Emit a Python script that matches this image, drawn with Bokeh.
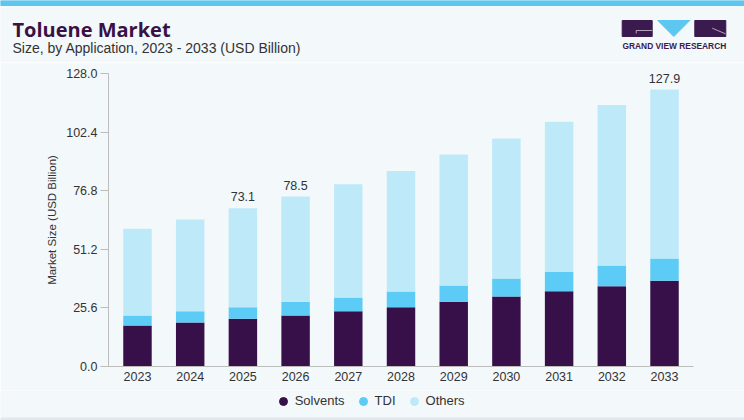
from bokeh.plotting import figure
from bokeh.layouts import column
from bokeh.models import (Range1d, LinearAxis, FixedTicker, PrintfTickFormatter, ColumnDataSource,
                          Legend, LegendItem, LabelSet)
from bokeh.core.properties import value
from bokeh.embed import file_html
from bokeh.resources import INLINE

# values (USD Billion)
years = [2023, 2024, 2025, 2026, 2027, 2028, 2029, 2030, 2031, 2032, 2033]
solvents = [18.9, 20.3, 22.0, 23.5, 25.5, 27.4, 29.9, 32.3, 34.8, 37.1, 39.6]
tdi = [4.6, 5.2, 5.4, 6.4, 6.4, 7.2, 7.5, 8.3, 8.8, 9.5, 10.3]
others = [40.1, 42.4, 45.7, 48.6, 52.3, 55.7, 60.5, 64.7, 69.4, 74.1, 78.0]
series = ["Solvents", "TDI", "Others"]
colors = ["#37104a", "#5ccbf5", "#bee9f9"]
labeled_years = [2025, 2026, 2033]
y_ticks = [0.0, 25.6, 51.2, 76.8, 102.4, 128.0]

title = "Toluene Market"
subtitle = "Size, by Application, 2023 - 2033 (USD Billion)"

FONT = "Liberation Sans"
BG = "#f3f8fb"
TXT = "#333333"
LOGO = "#3a1a4f"

totals = [round(a + b + c, 1) for a, b, c in zip(solvents, tdi, others)]
source = ColumnDataSource(dict(year=years, Solvents=solvents, TDI=tdi, Others=others))
lab = [i for i, y in enumerate(years) if y in labeled_years]
label_src = ColumnDataSource(dict(year=[years[i] for i in lab],
                                  total=[totals[i] for i in lab],
                                  txt=["%.1f" % totals[i] for i in lab]))


def strip(height):
    # full-bleed figure in pixel coordinates (y grows downward)
    f = figure(width=744, height=height, output_backend="svg", toolbar_location=None,
               x_range=Range1d(0, 744), y_range=Range1d(height, 0),
               x_axis_location=None, y_axis_location=None, min_border=0, frame_align=False,
               background_fill_color=BG, border_fill_color=BG, outline_line_color=None)
    f.grid.visible = False
    return f


# ---- header: title, subtitle and logo ----
HEAD_H = 62
head = strip(HEAD_H)
head.quad(left=[0], right=[744], top=[0], bottom=[5], color="#5ec6ee")
head.text(x=[12], y=[29.3], text=[title], text_font=value("Open Sans"), text_font_style="bold",
          text_font_size="20px", text_color="#3a1145", text_baseline="middle")
head.text(x=[12], y=[47.6], text=[subtitle], text_font=value(FONT), text_font_size="14px",
          text_color=TXT, text_baseline="middle")
head.quad(left=[621.7, 694.3], right=[651.7, 725.3], top=[20, 20], bottom=[36, 36], color=LOGO)
head.patch(x=[657.3, 689.3, 673.3], y=[20, 20, 36], color="#5cc8f2")
head.line(x=[651.7, 635.7, 635.7], y=[30, 30, 33], color="#cfc6d6", line_width=0.8)
head.line(x=[711.7, 725.0], y=[27.7, 33.3], color="#cfc6d6", line_width=0.8)
head.text(x=[622], y=[45.3], text=["GRAND VIEW RESEARCH"], text_font=value(FONT),
          text_font_style="bold", text_font_size="8.4px", text_color=LOGO, text_baseline="middle")

# ---- chart ----
CHART_H = 328
p = figure(width=744, height=CHART_H, output_backend="svg", toolbar_location=None,
           x_range=Range1d(2022.45, 2033.55), y_range=Range1d(0, 135.3),
           y_axis_location=None, frame_align=False,
           min_border_left=108, min_border_right=51, min_border_top=11, min_border_bottom=24,
           background_fill_color=BG, border_fill_color=BG, outline_line_color=None)
p.grid.visible = False

p.vbar_stack(series, x="year", width=0.54, color=colors, line_color=None, source=source)

# left axis carries the chart's own tick scale
p.extra_y_ranges = {"ticks": Range1d(0, 128)}
yax = LinearAxis(y_range_name="ticks", ticker=FixedTicker(ticks=y_ticks),
                 formatter=PrintfTickFormatter(format="%.1f"),
                 axis_label="Market Size (USD Billion)")
p.add_layout(yax, "left")

for ax in (p.xaxis[0], yax):
    ax.axis_line_color = "#bdbdbd"
    ax.major_tick_line_color = "#bdbdbd"
    ax.minor_tick_line_color = None
    ax.major_label_text_font = FONT
    ax.major_label_text_font_size = "12.5px"
    ax.major_label_text_color = TXT
    ax.axis_label_text_font = FONT
    ax.axis_label_text_font_style = "normal"
    ax.axis_label_text_font_size = "11.5px"
    ax.axis_label_text_color = TXT

yax.major_tick_out = 8
yax.major_tick_in = 0
yax.major_label_standoff = 3
yax.axis_label_standoff = 5

p.xaxis.ticker = FixedTicker(ticks=years)
p.xaxis.major_tick_out = 0
p.xaxis.major_tick_in = 0
p.xaxis.major_label_standoff = 5

p.add_layout(LabelSet(x="year", y="total", text="txt", source=label_src, y_offset=7,
                      text_align="center", text_baseline="alphabetic",
                      text_font=value(FONT), text_font_size="12.5px", text_color=TXT))

# ---- footer: legend with round markers and bottom rule ----
foot = strip(420 - HEAD_H - CHART_H)
foot.quad(left=[0], right=[744], top=[27.5], bottom=[30], color="#e2e7eb")
nan = float("nan")
legend_src = ColumnDataSource(dict(x=[nan] * len(series), y=[nan] * len(series), color=colors))
r = foot.scatter(x="x", y="y", color="color", marker="circle", size=9, source=legend_src)
items = [LegendItem(label=name, renderers=[r], index=i) for i, name in enumerate(series)]
legend = Legend(items=items, orientation="horizontal", location=(272.7, 9.3),
                glyph_width=20, glyph_height=20, label_height=20, label_standoff=2, spacing=8,
                padding=0, margin=0, background_fill_alpha=0, border_line_color=None,
                label_text_font=FONT, label_text_font_size="13px", label_text_color=TXT)
foot.add_layout(legend)

open("out.html", "w").write(file_html(column(head, p, foot, spacing=0), INLINE))
